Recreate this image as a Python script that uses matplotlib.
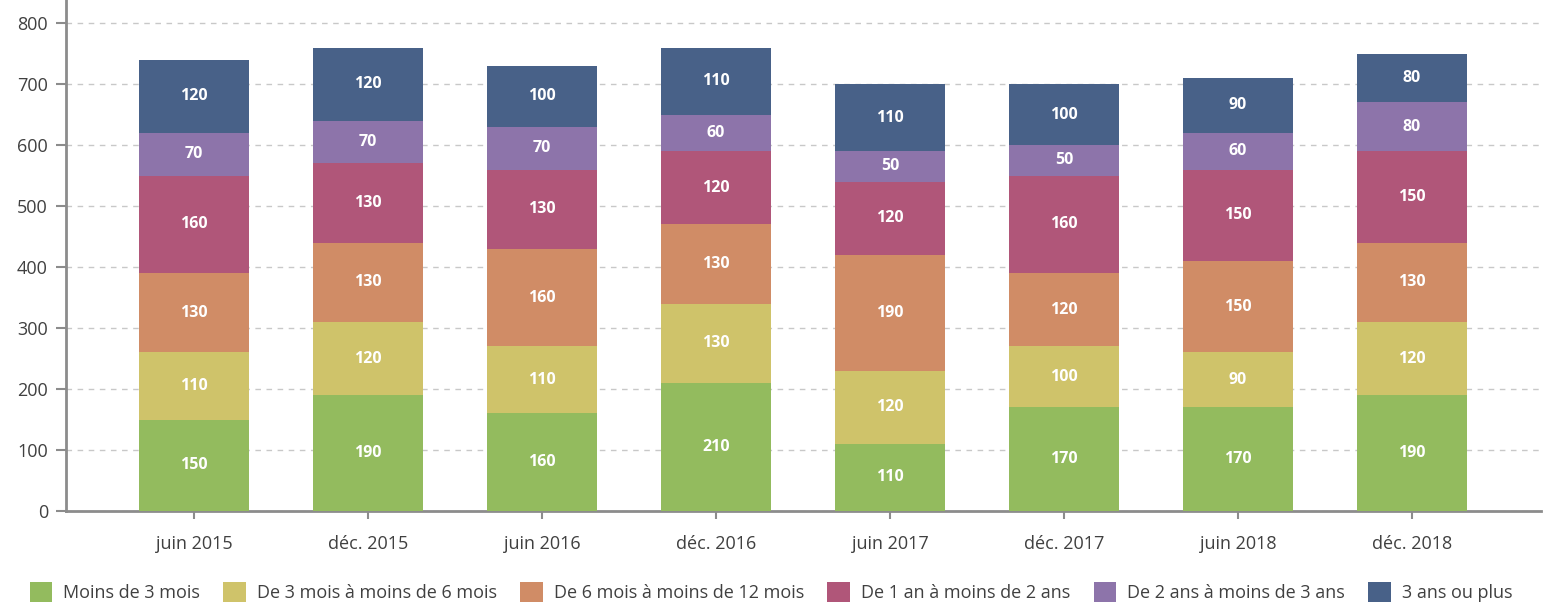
import matplotlib
matplotlib.use("Agg")
import matplotlib.pyplot as plt
import numpy as np
from matplotlib.patches import Patch

periods = ["juin 2015", "déc. 2015", "juin 2016", "déc. 2016",
           "juin 2017", "déc. 2017", "juin 2018", "déc. 2018"]
series_names = ["Moins de 3 mois", "De 3 mois à moins de 6 mois",
                "De 6 mois à moins de 12 mois", "De 1 an à moins de 2 ans",
                "De 2 ans à moins de 3 ans", "3 ans ou plus"]
moins_3m = [150, 190, 160, 210, 110, 170, 170, 190]
de_3_6m = [110, 120, 110, 130, 120, 100, 90, 120]
de_6_12m = [130, 130, 160, 130, 190, 120, 150, 130]
de_1_2a = [160, 130, 130, 120, 120, 160, 150, 150]
de_2_3a = [70, 70, 70, 60, 50, 50, 60, 80]
plus_3a = [120, 120, 100, 110, 110, 100, 90, 80]
colors = ["#93bb5e", "#cfc36a", "#d08c66", "#b05679", "#8d74aa", "#486188"]

plt.rcParams['font.family'] = ['Open Sans', 'DejaVu Sans']

fig = plt.figure(figsize=(15.51, 6.05), dpi=100)
ax = fig.add_axes([66/1551, (605-511)/605, (1541-66)/1551, 511/605])

x = np.arange(len(periods))
bottom = np.zeros(len(periods))
data = [moins_3m, de_3_6m, de_6_12m, de_1_2a, de_2_3a, plus_3a]
for vals, c in zip(data, colors):
    vals = np.array(vals)
    ax.bar(x, vals, bottom=bottom, width=0.632, color=c, zorder=3)
    for xi, b, v in zip(x, bottom, vals):
        ax.text(xi, b + v/2, f"{v}", ha="center", va="center", color="white",
                fontsize=11.5, fontweight="bold", zorder=4)
    bottom += vals

ax.set_xlim(-0.736, 7.741)
ax.set_ylim(0, 838)
ax.set_yticks(range(0, 801, 100))
ax.set_xticks(x)
ax.set_xticklabels(periods)
ax.yaxis.grid(True, linestyle=(0, (4, 4)), color="#c8c8c8", linewidth=1, zorder=0)
for s in ["top", "right"]:
    ax.spines[s].set_visible(False)
for s in ["left", "bottom"]:
    ax.spines[s].set_color("#8c8c8c")
    ax.spines[s].set_linewidth(2)
ax.tick_params(axis="y", colors="#8c8c8c", length=7, width=1.5, labelcolor="#404040",
               labelsize=13, pad=6)
ax.tick_params(axis="x", colors="#8c8c8c", length=6, width=1.5, labelcolor="#404040",
               labelsize=13, pad=11)

handles = [Patch(facecolor=c, edgecolor="none") for c in colors]
fig.legend(handles, series_names, loc="lower center", ncol=6, frameon=False,
           bbox_to_anchor=(0.497, -0.022), fontsize=13, handlelength=1.25,
           handleheight=1.25, columnspacing=1.3, handletextpad=0.6,
           labelcolor="#404040")

fig.savefig("out.png", dpi=100)
